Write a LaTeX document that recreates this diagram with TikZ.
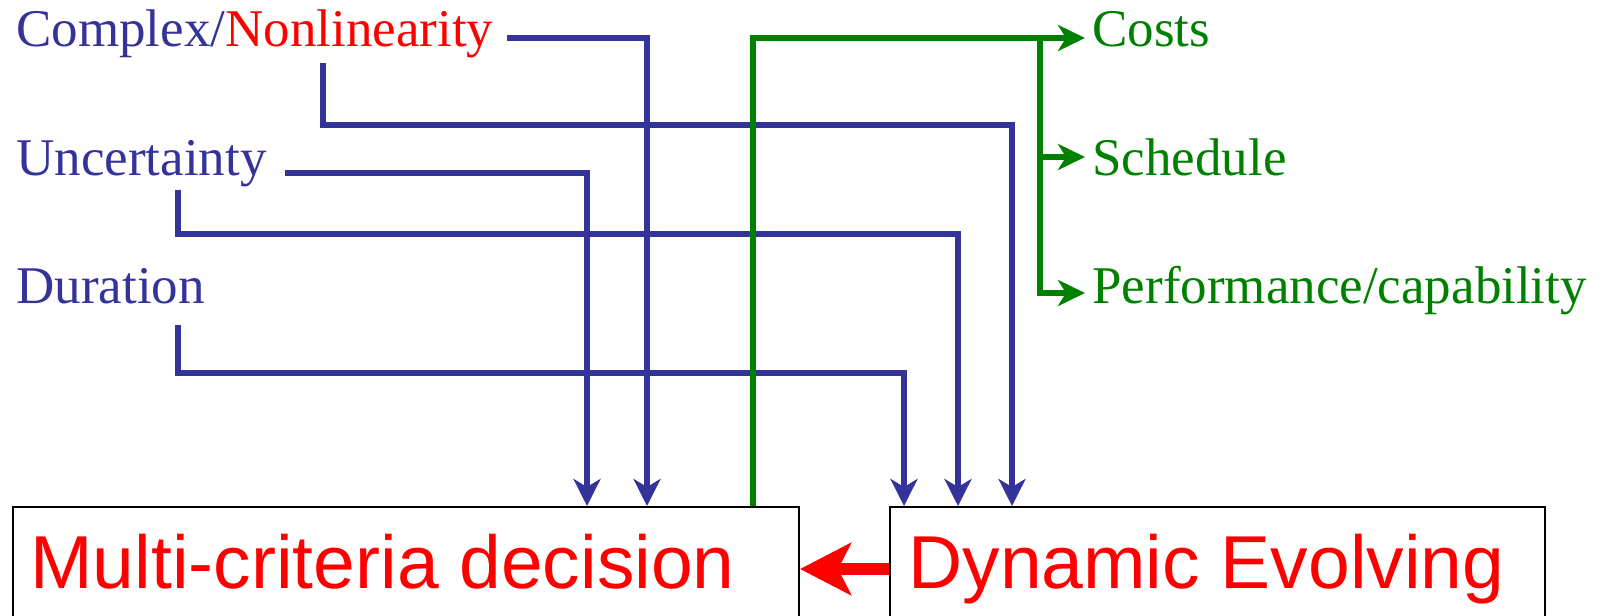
\documentclass[tikz,border=0pt]{standalone}
\usepackage{fontspec}
\setmainfont{Liberation Serif}
\newfontfamily\boxfont{Liberation Sans}
\usetikzlibrary{arrows.meta}
\definecolor{navy}{RGB}{51,51,153}
\definecolor{leaf}{RGB}{0,128,0}
\definecolor{hot}{RGB}{255,0,0}

\begin{document}
\begin{tikzpicture}[x=0.5pt,y=-0.5pt,
  lbl/.style={inner sep=0pt, anchor=base west, font=\fontsize{26.5}{30}\selectfont},
  boxtxt/.style={inner sep=0pt, anchor=base west, text=hot, font=\boxfont\fontsize{37.5}{42}\selectfont},
  panel/.style={draw=black, line width=1pt, anchor=north west, inner sep=0pt},
  feed/.style={draw=navy, line width=2.8pt, -{Stealth[length=13.5pt,width=13.5pt,inset=4pt]}},
  outflow/.style={draw=leaf, line width=2.8pt, -{Stealth[length=13.5pt,width=13pt,inset=4pt]}},
  push/.style={draw=hot, line width=6pt, -{Stealth[length=25.5pt,width=26pt,inset=6.5pt]}}
]
\useasboundingbox (0,0) rectangle (1604,615);
\clip (0,0) rectangle (1604,615);

% drivers (left) and outcomes (right)
\node[lbl] (cn) at (16,47) {\textcolor{navy}{Complex/}\textcolor{hot}{Nonlinearity}};
\node[lbl, text=navy] (unc) at (16,175) {Uncertainty};
\node[lbl, text=navy] (dur) at (16,303) {Duration};
\node[lbl, text=leaf] (cost) at (1092,47) {Costs};
\node[lbl, text=leaf] (sched) at (1092,175) {Schedule};
\node[lbl, text=leaf] (perf) at (1092,303) {Performance/capability};

% the two boxes, running past the lower edge
\node[panel, minimum width=393pt, minimum height=100pt] (mcd) at (12,506) {};
\node[panel, minimum width=327.5pt, minimum height=100pt] (dyn) at (889,506) {};
\node[boxtxt] (mcdt) at (30,588) {Multi-criteria decision};
\node[boxtxt] (dynt) at (908,588) {Dynamic Evolving};

% connector ports next to the labels
\coordinate (cnOut) at (507,38);
\coordinate (nlOut) at (323,63);
\coordinate (uncOut) at (285,173);
\coordinate (uncDown) at (178,190);
\coordinate (durDown) at (178,325);
\coordinate (fork) at (1040,38);

% blue feeds
\draw[feed] (cnOut) -| ([xshift=317.5pt]mcd.north west);
\draw[feed] (uncOut) -| ([xshift=287.5pt]mcd.north west);
\draw[feed] (nlOut) -- ++(0,62) -| ([xshift=61.5pt]dyn.north west);
\draw[feed] (uncDown) -- ++(0,44) -| ([xshift=34.5pt]dyn.north west);
\draw[feed] (durDown) -- ++(0,48) -| ([xshift=7.5pt]dyn.north west);

% green outcomes
\draw[outflow] ([xshift=370.5pt]mcd.north west) |- ([shift={(-7,-9)}]cost.base west);
\draw[outflow] (fork) |- ([shift={(-7,-18)}]sched.base west);
\draw[outflow] (fork) |- ([shift={(-7,-10)}]perf.base west);

% red link between the boxes
\draw[push] ([yshift=-31.5pt]dyn.north west) -- ([yshift=-31.5pt]mcd.north east);
\end{tikzpicture}
\end{document}
